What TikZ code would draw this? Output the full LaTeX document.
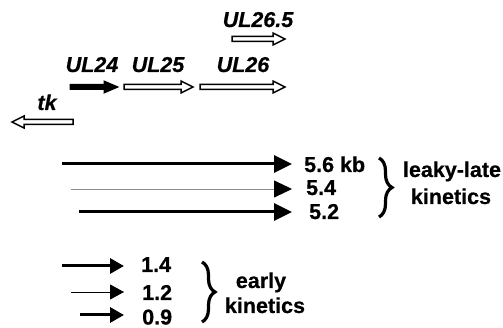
\documentclass[tikz,border=0pt]{standalone}
\usepackage{fontspec}
\setmainfont{Liberation Sans}[FakeBold=0.6]
\usetikzlibrary{arrows.meta,decorations.pathreplacing}
\newcommand\genearrow[5]{% x1, x2, y, head length (signed), style
  \draw[#5] (#1,#3-2.5) -- (#2-#4,#3-2.5) -- (#2-#4,#3-6) -- (#2,#3) -- (#2-#4,#3+6) -- (#2-#4,#3+2.5) -- (#1,#3+2.5) -- cycle;}
\tikzset{
  txt/.style={font=\fontsize{21.5}{25}\selectfont\bfseries, inner sep=0pt},
  numlbl/.style={txt, anchor=base west},
  genelbl/.style={font=\fontsize{21.5}{25}\selectfont\bfseries\itshape, inner sep=0pt, anchor=base},
  openarrow/.style={draw=black, fill=white, line width=1.5pt, line join=miter},
  fullarrow/.style={draw=black, fill=black, line width=1pt, line join=miter},
  heavy/.style={line width=3pt},
  light/.style={line width=0.9pt},
  bighead/.style={-{Triangle[length=18pt,width=17pt,color=black]}},
  smallhead/.style={-{Triangle[length=14pt,width=15pt,color=black]}},
  bracestyle/.style={decorate, decoration={brace, amplitude=13pt}, line width=3.2pt}
}
\begin{document}
\begin{tikzpicture}[x=1pt,y=-1pt]
\useasboundingbox (0,0) rectangle (503,328);
% gene map
\genearrow{232}{285}{39}{12}{openarrow}
\genearrow{70}{118}{87}{14}{fullarrow}
\genearrow{124}{193}{87}{12}{openarrow}
\genearrow{200}{285}{87}{12}{openarrow}
\genearrow{73}{12}{122}{-12}{openarrow}
\node[genelbl] (ul265) at (258,27) {UL26.5};
\node[genelbl] (ul24) at (92,72) {UL24};
\node[genelbl] (ul25) at (158,72) {UL25};
\node[genelbl] (ul26) at (243,72) {UL26};
\node[genelbl] (tk) at (47,110) {tk};
% leaky-late transcripts
\coordinate (a1) at (62,164); \coordinate (b1) at (292,164);
\coordinate (a2) at (71,189); \coordinate (b2) at (292,189);
\coordinate (a3) at (79,212); \coordinate (b3) at (292,212);
\draw[heavy,bighead] (a1) -- (b1);
\draw[light,bighead,draw=black!45] (a2) -- (b2);
\draw[heavy,bighead] (a3) -- (b3);
\node[numlbl] (l56) at (304,172) {5.6 kb};
\node[numlbl] (l54) at (306,195) {5.4};
\node[numlbl] (l52) at (309,219) {5.2};
\coordinate (br1t) at (379,158); \coordinate (br1b) at (379,217);
\draw[bracestyle] (br1t) -- (br1b);
\node[txt, anchor=base] (leaky) at (452,177) {leaky-late};
\node[txt, anchor=base] (kin1) at (451,204) {kinetics};
% early transcripts
\coordinate (c1) at (62,266); \coordinate (d1) at (124,266);
\coordinate (c2) at (71,292); \coordinate (d2) at (124,292);
\coordinate (c3) at (80,315); \coordinate (d3) at (124,315);
\draw[heavy,smallhead] (c1) -- (d1);
\draw[light,smallhead,draw=black] (c2) -- (d2);
\draw[heavy,smallhead] (c3) -- (d3);
\node[numlbl] (e14) at (141,272) {1.4};
\node[numlbl] (e12) at (142,300) {1.2};
\node[numlbl] (e09) at (142,324.5) {0.9};
\coordinate (br2t) at (202,262); \coordinate (br2b) at (202,322);
\draw[bracestyle] (br2t) -- (br2b);
\node[txt, anchor=base] (early) at (261,288) {early};
\node[txt, anchor=base] (kin2) at (265,313) {kinetics};
\end{tikzpicture}
\end{document}
